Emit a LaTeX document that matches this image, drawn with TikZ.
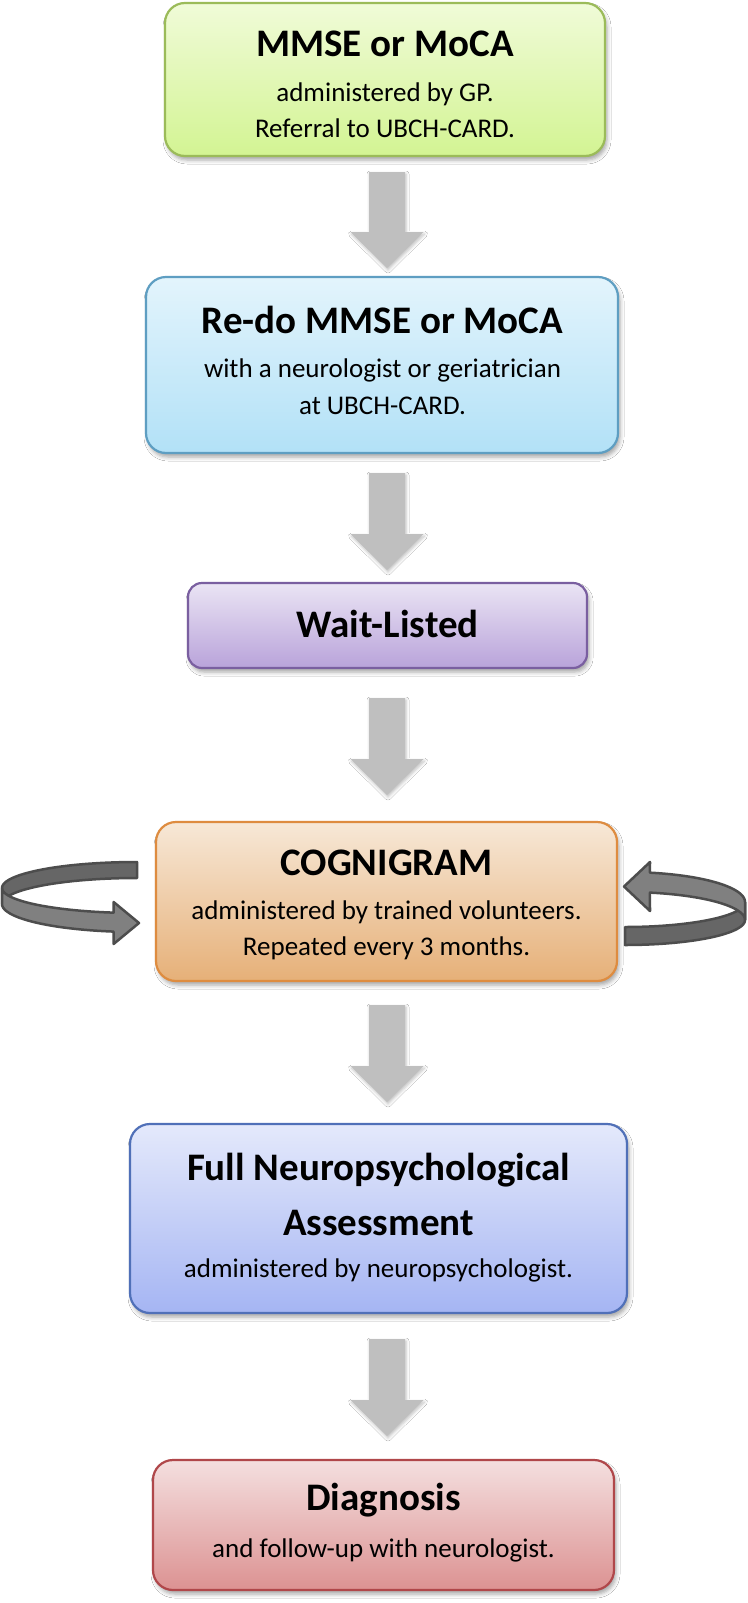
\documentclass[tikz,border=0pt]{standalone}
\usepackage{fontspec}
\setmainfont{Carlito}
\usetikzlibrary{calc,shadows.blur}
\definecolor{gTop}{HTML}{F0FBD8}\definecolor{gBot}{HTML}{D3F493}\definecolor{gLine}{HTML}{9BBB59}
\definecolor{cTop}{HTML}{E3F4FC}\definecolor{cBot}{HTML}{B2E1F7}\definecolor{cLine}{HTML}{5E9EC2}
\definecolor{pTop}{HTML}{EAE4F4}\definecolor{pBot}{HTML}{B9A3DA}\definecolor{pLine}{HTML}{7A5FA0}
\definecolor{oTop}{HTML}{F7E8D7}\definecolor{oBot}{HTML}{E6B078}\definecolor{oLine}{HTML}{DE8C40}
\definecolor{bTop}{HTML}{E4E9FB}\definecolor{bBot}{HTML}{A5B5F3}\definecolor{bLine}{HTML}{5070B8}
\definecolor{rTop}{HTML}{F4DFDF}\definecolor{rBot}{HTML}{DC9292}\definecolor{rLine}{HTML}{B0474A}
\definecolor{arrGray}{HTML}{BFBFBF}
\definecolor{ribBack}{HTML}{666666}\definecolor{ribFront}{HTML}{808080}\definecolor{ribLine}{HTML}{4D4D4D}
\newcommand\myblockarrow[2]{%
  \fill[blockarr] ($(#1)+(-18,0)$) -- ($(#1)+(18,0)$) -- ($(#2)+(18,-36)$) -- ($(#2)+(36.5,-36)$)
    -- (#2) -- ($(#2)+(-36.5,-36)$) -- ($(#2)+(-18,-36)$) -- cycle;}
\begin{document}
\begin{tikzpicture}[x=1pt,y=-1pt,
  box/.style={draw, line width=2.2pt, rounded corners=20pt, inner sep=0pt, outer sep=0pt,
    blur shadow={shadow xshift=2pt, shadow yshift=-4pt, shadow blur radius=4pt, shadow opacity=35}},
  blockarr/.style={arrGray, blur shadow={shadow xshift=1pt, shadow yshift=-2pt, shadow blur radius=3pt, shadow opacity=25}},
  ttl/.style={font=\fontsize{39}{46}\selectfont\bfseries, anchor=base, inner sep=0pt},
  txt/.style={font=\fontsize{27}{32}\selectfont, anchor=base, inner sep=0pt},
  ribbonback/.style={fill=ribBack, draw=ribLine, line width=2.5pt, line join=round},
  ribbonfront/.style={fill=ribFront, draw=ribLine, line width=2.5pt, line join=round}]
\useasboundingbox (0,0) rectangle (747,1603);
\fill[white] (0,0) rectangle (747,1603);
\coordinate (ax) at (387,0);

% boxes
\node[box, draw=gLine, top color=gTop, bottom color=gBot, minimum width=440pt, minimum height=153pt] (b1) at (385,79.5) {};
\node[box, draw=cLine, top color=cTop, bottom color=cBot, minimum width=472pt, minimum height=176pt] (b2) at (382,365) {};
\node[box, draw=pLine, top color=pTop, bottom color=pBot, minimum width=399pt, minimum height=85pt, rounded corners=14pt] (b3) at (387.5,625.5) {};
\node[box, draw=oLine, top color=oTop, bottom color=oBot, minimum width=461pt, minimum height=159pt] (b4) at (386.5,901.5) {};
\node[box, draw=bLine, top color=bTop, bottom color=bBot, minimum width=497pt, minimum height=189pt] (b5) at (378.5,1218.5) {};
\node[box, draw=rLine, top color=rTop, bottom color=rBot, minimum width=461pt, minimum height=130pt] (b6) at (383.5,1525) {};

% texts
\node[ttl] (t1) at (385,57) {MMSE or MoCA};
\node[txt] (t1a) at (385,101) {administered by GP.};
\node[txt] (t1b) at (385,137) {Referral to UBCH-CARD.};
\node[ttl] (t2) at (382.5,333) {Re-do MMSE or MoCA};
\node[txt] (t2a) at (382.5,377) {with a neurologist or geriatrician};
\node[txt] (t2b) at (382.5,414) {at UBCH-CARD.};
\node[ttl] (t3) at (387.5,637) {Wait-Listed};
\node[ttl] (t4) at (386.5,875) {COGNIGRAM};
\node[txt] (t4a) at (386.5,919) {administered by trained volunteers.};
\node[txt] (t4b) at (386.5,955) {Repeated every 3 months.};
\node[ttl] (t5) at (378.5,1180) {Full Neuropsychological};
\node[ttl] (t5b) at (378.5,1235) {Assessment};
\node[txt] (t5c) at (378.5,1277) {administered by neuropsychologist.};
\node[ttl] (t6) at (383.5,1510) {Diagnosis};
\node[txt] (t6a) at (383.5,1557) {and follow-up with neurologist.};

% block arrows between boxes
\coordinate (a1s) at ($(b1.south -| ax)+(0,16)$);  \coordinate (a1e) at ($(b2.north -| ax)+(0,-9)$);
\coordinate (a2s) at ($(b2.south -| ax)+(0,20)$);  \coordinate (a2e) at ($(b3.north -| ax)+(0,-13)$);
\coordinate (a3s) at ($(b3.south -| ax)+(0,30)$);  \coordinate (a3e) at ($(b4.north -| ax)+(0,-27)$);
\coordinate (a4s) at ($(b4.south -| ax)+(0,24)$);  \coordinate (a4e) at ($(b5.north -| ax)+(0,-22)$);
\coordinate (a5s) at ($(b5.south -| ax)+(0,26)$);  \coordinate (a5e) at ($(b6.north -| ax)+(0,-24)$);
\myblockarrow{a1s}{a1e}
\myblockarrow{a2s}{a2e}
\myblockarrow{a3s}{a3e}
\myblockarrow{a4s}{a4e}
\myblockarrow{a5s}{a5e}

% left loop arrow
\draw[ribbonback] plot[domain=270:180, samples=40] ({137+135*cos(\x)},{888+26*sin(\x)})
  -- plot[domain=180:270, samples=40] ({137+135*cos(\x)},{904+26*sin(\x)}) -- cycle;
\draw[ribbonfront] plot[domain=180:100, samples=40] ({137+135*cos(\x)},{888+25*sin(\x)})
  -- (113.6,902) -- (139,923) -- (113.6,944)
  -- plot[domain=100:180, samples=40] ({137+135*cos(\x)},{904+28*sin(\x)}) -- cycle;

% right loop arrow
\draw[ribbonback] plot[domain=0:90, samples=40] ({625+120*cos(\x)},{902+25*sin(\x)})
  -- plot[domain=90:0, samples=40] ({625+120*cos(\x)},{920+25*sin(\x)}) -- cycle;
\draw[ribbonfront] plot[domain=0:-78, samples=40] ({625+120*cos(\x)},{902+30*sin(\x)})
  -- (650,862) -- (624,886.5) -- (650,911)
  -- plot[domain=-78:0, samples=40] ({625+120*cos(\x)},{920+28*sin(\x)}) -- cycle;
\end{tikzpicture}
\end{document}
